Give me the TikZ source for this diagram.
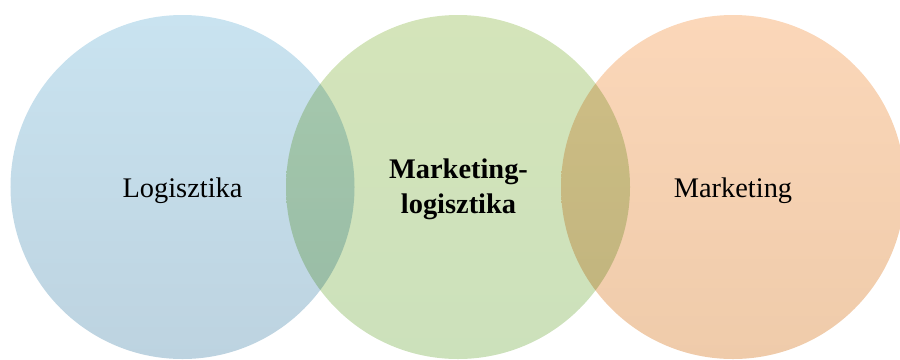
\documentclass[tikz,border=0pt]{standalone}
\usepackage{fontspec}
\setmainfont{Liberation Serif}
\definecolor{logtop}{RGB}{201,227,240}
\definecolor{logbot}{RGB}{189,211,224}
\definecolor{mltop}{RGB}{212,228,186}
\definecolor{mlbot}{RGB}{204,225,187}
\definecolor{mktop}{RGB}{251,215,185}
\definecolor{mkbot}{RGB}{239,203,170}
\tikzset{lbl/.style={font=\fontsize{28.5}{35}\selectfont, inner sep=0pt, align=center}}
\begin{document}
\begin{tikzpicture}[x=1bp,y=-1bp]
    \useasboundingbox (0,0) rectangle (900,359);
    \begin{scope}[blend group=multiply]
    \shade [top color=logtop,bottom color=logbot](182.5,187) circle [radius=172bp];
    \shade [top color=mltop,bottom color=mlbot](458,187) circle [radius=172bp];
    \shade [top color=mktop,bottom color=mkbot](733,187) circle [radius=172bp];
    \end{scope}
        \node [lbl, anchor=base] (log) at (182.5,197) {Logisztika};
        \node [lbl, font=\fontsize{28.5}{35}\selectfont\bfseries] (mlog) at (458.5,189) {Marketing-\\logisztika};
        \node [lbl, anchor=base] (mkt) at (733,197) {Marketing};
             \end{tikzpicture}
\end{document}
